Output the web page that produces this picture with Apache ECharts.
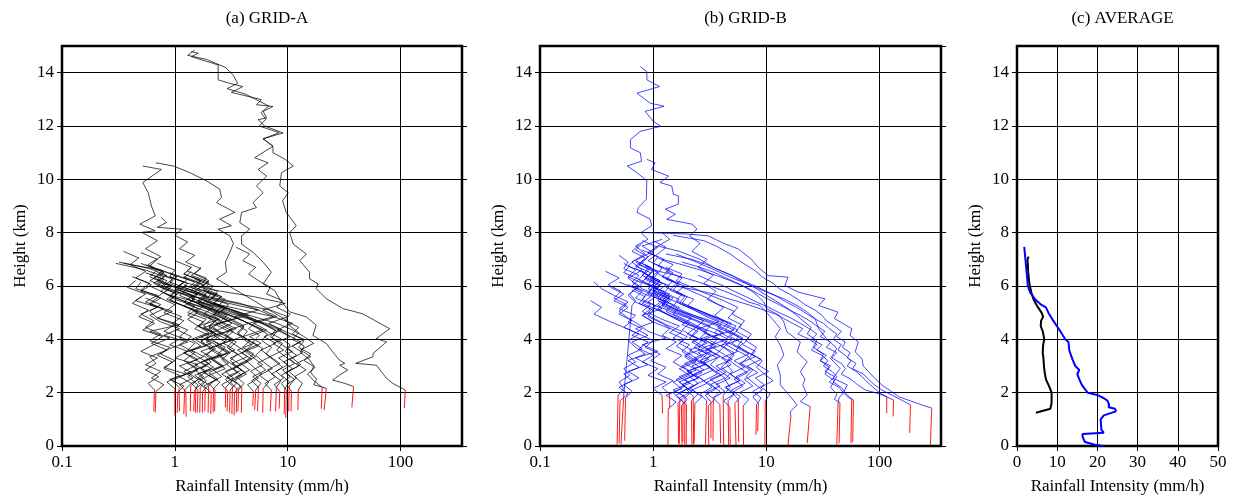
<!DOCTYPE html>
<html><head><meta charset="utf-8">
<script src="https://cdn.jsdelivr.net/npm/echarts@6/dist/echarts.min.js"></script>
<style>html,body{margin:0;padding:0;background:#fff}#c{width:1236px;height:500px}</style>
</head><body><div id="c"></div>
<script>
// ---------------- DATA ----------------
const panelTitles = ['(a) GRID-A', '(b) GRID-B', '(c) AVERAGE'];
const xName = 'Rainfall Intensity (mm/h)';
const yName = 'Height (km)';
const profileStep = 0.25; // km between profile samples

// GRID-A: jagged profiles, values (mm/h) from bottom upward, bottom heights (km)
const gridA_bottoms = [2.1,2.05,2.15,2.0,2.2,2.1,2.05,2.25,2.15,2.1,2.2,2.05,2.25,2.0,2.15,2.1,2.2,2.05,2.1,2.25,2.0,2.15,2.1,2.2,2.05,2.1,2.2,2.15,2.1,2.2,2.05,2.15,2.1,2.25,2.05,2.1,2.2];
const gridA_profiles = [
 [0.66,0.58,0.72,0.55,0.68,0.6,0.85,0.62,0.78,0.52,0.66,0.48,0.58,0.42,0.5],
 [0.68,0.8,0.62,0.75,0.55,0.7,0.5,0.65,0.9,0.6,1.1,0.7,0.95,0.6,0.75,0.5,0.62,0.45,0.55,0.4,0.48,0.35],
 [1.0,0.85,1.1,0.8,0.95,0.7,0.9,1.3,0.8,1.1,0.75,0.6,0.8,0.55,0.7,0.45,0.5],
 [1.06,1.2,0.9,1.4,1.1,1.6,1.2,1.9,1.5,2.2,1.6,1.3,1.6,1.2,1.5,1.1],
 [1.09,0.95,1.25,0.8,1.0,0.75,0.9,0.6,0.75,0.55,0.65,0.5,0.7,0.45,0.55,0.38,0.45],
 [1.22,1.4,1.1,1.6,1.3,1.8,1.4,2.1,1.7,2.4,3.2,2.6,2.0,1.6,1.9,1.4,1.7,1.2],
 [1.25,1.1,1.45,1.2,1.6,1.0,1.3,0.9,1.15,0.8,1.0,0.7,0.6,0.75,0.55],
 [1.38,1.6,1.3,1.9,1.5,1.2,1.7,1.4,2.0,1.6,2.5,1.8,1.2,0.9,1.1,0.8,0.95,0.7],
 [1.53,1.8,1.5,2.1,1.7,2.5,2.0,2.8,2.2,3.5,2.6,4.5,3.0,1.6,0.9,1.1,0.7,0.85,0.6,0.32],
 [1.6,1.4,1.8,1.5,2.0,1.6,1.3,1.5,1.1,1.3,0.95,1.15,0.8,0.6,0.72,0.5,0.6,0.42],
 [1.68,1.9,1.6,2.2,1.8,2.6,2.0,1.7,2.3,1.8,3.0,2.2,2.6,1.8,2.1,1.5,1.7,1.2,1.4],
 [1.76,2.0,1.6,1.9,1.5,2.2,1.7,2.5,1.9,3.0,2.3,3.6,2.5,1.5,1.0,0.75,0.9,0.65,0.78,0.55],
 [1.99,2.3,1.8,2.6,2.1,2.9,2.3,3.3,2.6,2.0,2.4,1.7,1.2,0.85,1.0,0.7,0.8,0.55],
 [2.1,1.8,2.4,2.0,2.7,2.2,3.0,2.4,1.9,2.2,1.6,1.9,1.3,1.5,1.0,0.8,0.95,0.7,0.8,0.6,0.7,0.5],
 [2.2,2.5,2.0,2.8,2.3,1.9,2.2,1.7,2.0,1.5,1.8,1.3,1.6,1.2,1.45,1.0,1.2],
 [2.27,2.0,2.6,2.2,3.0,2.5,3.4,2.7,3.9,3.0,4.5,3.4,5.5,3.8,2.0,1.2,0.8,0.6,0.7,0.5],
 [2.83,3.2,2.6,3.5,2.9,2.4,2.8,2.2,2.6,2.0,2.3,1.7,1.3,0.9,1.05,0.75,0.85,0.6],
 [2.94,2.6,3.3,2.8,3.8,3.1,4.2,3.4,2.8,3.3,2.5,2.0,2.4,1.7,2.0,1.5,1.8,1.2,1.4],
 [3.09,3.5,2.9,3.9,3.2,4.4,3.6,5.0,4.0,6.0,4.5,7.5,5.5,3.0,1.5,0.9,0.65,0.8,0.55,0.3],
 [3.24,2.8,3.6,3.0,2.6,3.1,2.5,2.9,2.2,1.8,2.1,1.5,1.8,1.3,1.6,1.1,1.3,0.9],
 [3.37,3.8,3.2,4.2,3.5,4.8,3.9,5.5,4.3,3.6,4.1,3.2,2.4,1.6,1.1,0.8,0.6],
 [3.54,3.1,3.9,3.3,4.4,3.7,3.0,3.5,2.8,3.2,2.5,2.9,2.0,1.5,1.1,1.3,0.9,1.0,0.7],
 [3.66,4.1,3.5,4.6,3.8,5.2,4.2,5.8,4.6,6.5,5.0,8.0,6.0,9.5,5.0,2.2,1.3,0.9],
 [3.92,3.4,4.3,3.6,3.1,3.6,2.9,3.3,2.6,2.2,2.5,1.8,2.2,1.6,1.9,1.4,1.7,1.2,1.4,1.0],
 [4.96,4.4,5.5,4.7,6.0,5.0,4.2,4.8,3.9,4.4,3.5,2.6,1.9,1.3,1.5,1.0],
 [5.2,5.8,4.9,6.4,5.4,7.0,5.8,7.8,6.2,8.8,6.8,10.0,7.0,3.5,1.8,1.2,0.9,1.05,0.75,0.35],
 [5.5,4.8,5.9,5.0,4.3,5.0,4.0,4.6,3.6,4.1,3.2,2.4,2.8,2.0,2.4,1.7,2.0,1.5,1.7],
 [6.06,6.8,5.6,7.3,6.1,5.2,6.0,4.9,5.6,4.5,5.2,4.0,3.0,2.0,1.4,1.0,1.2,0.8],
 [7.16,6.3,7.8,6.6,8.5,7.0,9.2,7.4,10.5,8.0,11.0,7.5,4.0,2.2,1.5,1.1,1.3,0.9,1.0,0.7],
 [7.93,8.7,7.2,9.0,7.6,6.4,7.2,5.9,6.6,5.2,4.0,2.8,2.0,1.4,1.6,1.1],
 [8.5,7.6,9.2,7.9,10.0,8.3,11.0,8.8,7.2,8.0,6.2,4.5,3.0,2.0,1.4,1.7,1.2],
 [9.4,10.4,8.8,11.0,9.2,12.0,9.8,13.0,10.2,8.0,5.5,3.5,2.3,1.6,1.9,1.3,1.5,1.0],
 [9.7,8.8,10.5,9.0,11.5,9.5,8.0,9.0,7.0,7.8,6.0,4.5,3.2,2.2,2.6,1.8,2.0,1.4],
 [10.3,11.5,9.6,12.5,10.5,13.5,11.0,14.0,10.0,7.5,5.0,3.4,2.4,2.8,1.9,2.2,1.5],
 [10.8,9.8,12.0,10.2,13.0,11.0,9.5,10.5,8.5,6.5,4.8,3.5,2.6,3.0,2.1,2.4,1.7,1.9,1.3],
 [12.4,13.5,11.5,14.5,12.0,16.0,13.0,17.0,14.0,11.0,8.0,5.0,3.2,2.2,2.6,1.8],
 [20.2,17.0,15.0,17.5,14.0,16.0,12.5,14.0,11.0,12.5,9.5,10.5,8.0,9.0,6.5,7.0,5.5,4.5,5.2,4.0,4.6,3.5]
];
// lower ends [mm/h, km] of the red near-surface segments
const gridA_redEnds = [[0.65,1.3],[0.67,1.25],[1.0,1.15],[1.05,1.25],[1.1,1.3],[1.2,1.2],[1.26,1.1],[1.37,1.3],[1.52,1.25],[1.58,1.25],[1.66,1.25],[1.75,1.25],[1.97,1.25],[2.08,1.2],[2.18,1.25],[2.25,1.3],[2.8,1.45],[2.9,1.3],[3.05,1.25],[3.2,1.2],[3.35,1.15],[3.5,1.25],[3.62,1.3],[3.88,1.25],[4.9,1.5],[5.1,1.35],[5.4,1.3],[6.0,1.25],[7.0,1.3],[7.8,1.3],[8.4,1.4],[9.3,1.2],[9.6,1.05],[10.2,1.3],[10.7,1.3],[12.3,1.35],[19.8,1.4]];
// GRID-A tall profiles as [km, mm/h]
const gridA_tall = [
 [[14.79,1.40],[14.73,1.61],[14.6,1.40],[14.29,2.42],[13.73,2.42],[13.6,3.07],[13.48,4.0],[13.26,3.17],[12.99,5.85],[12.8,5.28],[12.73,7.4],[12.55,6.06],[12.3,6.5],[12.24,5.46],[12.0,6.25],[11.74,9.1],[11.52,6.06],[11.24,7.4],[11.0,7.4],[10.75,9.5],[10.5,11.2],[10.25,8.8],[9.75,8.5],[9.5,10.1],[9.2,9.0],[8.76,9.7],[8.26,11.9],[8.0,10.4],[7.57,11.2],[7.2,14.6],[6.95,12.8],[6.52,15.6],[6.27,15.6],[6.08,18.6],[5.9,17.9],[5.52,22],[5.15,31],[4.96,46],[4.4,80],[4.03,61],[3.9,75],[3.47,57],[3.35,57],[3.1,40],[3.03,61],[2.54,75],[2.35,85],[2.1,110]],
 [[14.85,1.5],[14.65,1.3],[14.5,1.9],[14.2,2.8],[13.9,3.3],[13.6,3.6],[13.4,2.9],[13.2,4.2],[13.0,5.2],[12.75,6.8],[12.5,5.8],[12.25,6.4],[12.0,5.6],[11.75,8.4],[11.52,6.06],[11.24,7.4],[10.81,5.1],[10.62,6.7],[10.37,5.46],[10.12,6.5],[9.75,5.28],[9.5,6.06],[9.13,4.93],[8.94,5.28],[8.76,3.9],[8.38,3.76],[8.13,4.6],[7.88,3.9],[7.57,3.9],[7.26,4.93],[6.89,6.06],[6.52,7.16],[6.08,6.06],[5.83,7.66],[5.5,8.5],[5.03,10.4],[4.84,14.6],[4.53,17.9],[4.15,16.7],[3.84,22],[3.53,25],[3.22,28.8],[3.1,32],[3.03,28.8],[2.85,34],[2.66,28.8],[2.47,25],[2.35,32],[2.23,38.3]],
 [[10.62,0.68],[10.5,0.97],[10.25,1.36],[9.94,1.91],[9.63,2.5],[9.32,2.59],[9.13,2.34],[8.76,3.4],[8.51,2.5],[8.26,3.17],[8.13,2.42],[7.88,3.07],[7.6,3.3],[7.26,3.07],[6.9,2.8],[6.52,2.87],[6.27,2.34],[6.0,3.0],[5.75,3.8],[5.5,4.8],[5.25,6.0],[5.0,7.5],[4.75,9.5],[4.5,10.5],[4.25,12.5],[4.0,11],[3.75,14],[3.5,13],[3.25,15.5],[3.0,17],[2.75,16],[2.5,18],[2.3,17],[2.16,22]],
 [[10.5,0.52],[10.37,0.76],[9.88,0.52],[9.5,0.58],[9.0,0.62],[8.63,0.67],[8.32,0.49],[8.07,0.67],[8.01,0.51],[7.7,0.7],[7.4,0.55],[7.1,0.75],[6.8,0.58],[6.5,0.8],[6.2,0.6],[5.9,0.9],[5.6,0.7],[5.3,1.0],[5.0,0.8],[4.7,1.2],[4.4,1.0],[4.1,1.4],[3.8,1.1],[3.5,1.5],[3.2,1.2],[2.9,1.6],[2.6,1.3],[2.3,1.6],[2.05,1.49]],
 [[8.57,0.76],[8.38,0.84],[8.2,0.7],[8.13,1.15],[7.9,1.0],[7.65,1.3],[7.4,1.1],[7.15,1.5],[6.9,1.25],[6.65,1.7],[6.4,1.4],[6.15,2.0],[5.9,1.6],[5.65,2.3],[5.4,1.9],[5.15,2.8],[4.9,2.2],[4.65,2.6],[4.4,2.0],[4.15,2.4],[3.9,1.9],[3.65,2.3],[3.4,1.8],[3.15,2.1],[2.9,1.7],[2.65,2.0],[2.4,1.6],[2.15,1.86]]
];
const gridA_tallRedEnds = [[108,1.42],[37,1.45],[21,1.35],[1.47,1.3],[1.84,1.3]];

// GRID-B
const gridB_bottoms = [1.9,1.7,1.8,1.9,1.4,1.95,1.6,1.75,1.5,1.65,1.8,1.55,1.7,1.85,1.6,1.7,1.5,1.65,1.8,1.55,1.7,1.45,1.6,1.75,1.5,1.55,1.6,1.7];
const gridB_profiles = [
 [0.49,0.55,0.5,0.62,0.55,0.7,0.6,0.8,0.65,0.9,0.7,1.0,0.8,1.2,0.9,1.1,0.8,0.65,0.75,0.55,0.6,0.5],
 [0.51,0.6,0.5,0.65,0.55,0.75,0.6,0.85,0.7,0.6,0.75,0.55,0.65,0.5,0.6,0.45,0.55,0.42],
 [0.57,0.65,0.55,0.75,0.6,0.9,0.7,1.1,0.8,1.3,0.9,0.75,0.6,0.5,0.58,0.45,0.52,0.4,0.5,0.38],
 [1.2,1.0,1.3,0.9,1.1,0.8,1.0,0.75,0.9,0.65,0.8,0.6,0.7,0.5,0.6,0.45,0.35,0.3],
 [1.36,1.6,1.3,1.8,1.5,2.1,1.7,2.4,1.9,2.8,2.2,3.2,2.5,3.8,2.8,2.2,1.6,1.2,0.9,1.05,0.8,0.9,0.7],
 [1.4,1.2,1.5,1.1,1.3,0.95,1.15,0.85,1.0,0.75,0.55,0.4,0.3,0.35,0.28],
 [1.66,1.9,1.5,2.1,1.7,2.4,1.9,2.7,2.1,3.0,2.3,1.8,2.1,1.5,1.1,0.8,0.95,0.7,0.8,0.6,0.7,0.55],
 [1.72,1.5,1.9,1.6,2.2,1.8,2.5,2.0,1.6,1.9,1.4,1.7,1.2,0.9,1.05,0.8,0.9,0.65,0.75,0.55,0.62],
 [1.78,2.0,1.7,2.3,1.9,2.7,2.2,3.1,2.5,3.6,2.8,4.2,3.0,2.2,1.5,1.1,1.3,0.9,1.0,0.75,0.85,0.6,0.7],
 [1.84,1.6,2.0,1.7,2.3,1.9,1.5,1.8,1.3,1.6,1.2,1.4,1.0,0.8,0.95,0.7,0.6,0.7,0.5],
 [1.91,2.2,1.8,2.5,2.0,2.9,2.3,3.3,2.6,2.1,2.5,1.8,2.2,1.6,1.2,1.4,1.0,1.15,0.85,1.0,0.75,0.85,0.65,0.75],
 [1.97,1.7,2.2,1.8,2.5,2.0,2.8,2.2,1.8,2.1,1.5,1.8,1.3,1.0,0.8,0.95,0.7,0.8,0.6],
 [2.18,2.5,2.1,2.8,2.3,3.2,2.6,3.6,2.8,4.2,3.1,2.4,2.8,2.0,1.5,1.1,1.3,1.0,1.15,0.85,0.95,0.7,0.9,1.1,0.8],
 [2.26,2.0,2.5,2.1,2.8,2.3,1.9,2.2,1.7,2.0,1.5,1.2,0.9,1.0,0.75,0.85,0.65],
 [2.34,2.7,2.2,3.0,2.5,3.4,2.8,3.9,3.0,4.5,3.4,5.2,3.8,2.5,1.6,1.2,1.4,1.0,1.2,0.9,1.0,0.8,0.9,0.7,0.8],
 [2.96,2.6,3.3,2.8,3.7,3.1,2.6,3.0,2.3,2.7,2.0,2.4,1.7,1.3,1.0,1.2,0.9,1.0,0.75],
 [3.07,3.5,2.9,3.9,3.2,4.4,3.6,5.0,4.0,3.2,3.7,2.8,3.2,2.3,1.6,1.2,1.4,1.0,1.15,0.85,0.95,0.7,0.85,1.0,0.8,1.2],
 [3.24,2.9,3.6,3.0,4.0,3.3,2.8,3.2,2.5,2.9,2.2,2.5,1.8,1.4,1.1,1.3,0.95,1.1,0.8,0.9,0.7,0.8],
 [3.4,3.9,3.2,4.3,3.6,4.9,4.0,5.6,4.4,6.2,4.8,3.5,2.4,1.7,1.3,1.5,1.1,1.3,0.95,1.1,0.85],
 [3.89,3.4,4.3,3.6,4.8,3.9,3.2,3.7,2.9,3.4,2.6,3.0,2.2,1.7,1.3,1.5,1.1,1.25,0.9,1.0,0.8],
 [4.6,5.2,4.3,5.8,4.8,6.4,5.2,7.0,5.5,4.3,4.9,3.7,4.2,3.0,2.2,1.6,1.8,1.3,1.5,1.1,1.2,0.9,1.1,1.3,1.0],
 [4.77,4.2,5.2,4.4,5.8,4.8,4.0,4.6,3.6,4.2,3.2,3.7,2.6,2.0,1.5,1.7,1.2,1.4,1.0,1.15,0.85],
 [5.28,5.9,4.9,6.5,5.4,7.2,5.8,8.0,6.2,5.0,5.7,4.3,4.9,3.5,2.5,1.8,2.0,1.5,1.7,1.2,1.4,1.0,1.1,0.8],
 [5.65,5.0,6.2,5.2,6.8,5.5,4.6,5.2,4.0,4.6,3.5,4.0,2.8,2.0,1.5,1.7,1.25,1.4,1.0,1.1,0.85],
 [6.25,7.0,5.8,7.6,6.4,8.4,6.8,9.0,7.0,5.6,6.2,4.8,5.4,3.8,2.8,2.0,2.3,1.6,1.9,1.3,1.5,1.1,1.25,0.9,1.1,1.4,1.2],
 [8.2,9.0,7.6,9.6,8.0,10.5,8.4,7.0,8.0,6.2,7.0,5.4,6.0,4.6,5.2,3.8,3.0,2.2,1.6,1.8,1.3,1.5,1.1],
 [8.5,7.6,9.2,7.8,6.6,7.6,6.0,7.0,5.4,6.2,4.8,5.6,4.2,3.2,2.3,1.7,1.9,1.4,1.6,1.2],
 [9.8,10.8,9.0,11.5,9.6,8.2,9.2,7.4,8.2,6.6,7.4,5.8,6.4,5.0,5.6,4.2,3.0,2.2,1.6,1.8,1.3]
];
const gridB_redEnds = [[0.48,0.05],[0.5,0.1],[0.56,0.2],[1.21,1.23],[1.35,0.05],[1.4,1.4],[1.68,0.1],[1.7,0.05],[1.8,0.03],[1.83,0.15],[1.9,0.05],[1.96,0.05],[2.2,0.05],[2.28,0.05],[2.3,0.1],[2.9,0.05],[3.1,0.03],[3.24,0.3],[3.38,0.2],[3.95,0.1],[4.65,0.03],[4.8,0.05],[5.4,0.03],[5.7,0.15],[6.3,0.03],[8.1,0.42],[8.4,0.55],[9.7,0.03]];
const gridB_tall = [
 [[14.23,0.77],[14.04,0.88],[13.73,0.88],[13.48,1.14],[13.23,0.72],[12.86,0.94],[12.74,1.25],[12.55,0.85],[12.18,1.0],[11.99,1.17],[11.8,0.77],[11.49,0.63],[11.18,0.63],[11.0,0.77],[10.68,0.79],[10.5,0.59],[10.25,0.72],[9.94,0.88],[9.25,0.87],[8.94,0.74],[8.76,0.72],[8.51,0.94],[8.26,0.97],[8.0,0.78],[7.75,0.9],[7.5,0.7],[7.2,0.85],[6.9,0.65],[6.6,0.8],[6.3,0.6],[6.0,0.75],[5.7,0.62],[5.45,0.7],[5.27,0.65],[1.91,0.55]],
 [[10.75,0.88],[10.62,1.04],[10.37,0.97],[10.12,1.37],[9.88,1.15],[9.75,1.46],[9.44,1.51],[9.38,1.67],[9.07,1.67],[8.88,1.28],[8.69,1.57],[8.5,1.32],[8.32,2.2],[8.13,2.44],[7.88,2.1],[7.6,2.6],[7.3,2.2],[7.0,3.0],[6.7,2.5],[6.4,3.4],[6.1,2.8],[5.8,3.6],[5.5,3.0],[5.2,4.2],[4.9,3.5],[4.6,4.6],[4.3,3.8],[4.0,5.0],[3.7,4.2],[3.4,5.2],[3.1,4.4],[2.8,5.0],[2.5,4.3],[2.2,4.8],[1.9,4.16]],
 [[6.6,1.0],[6.4,1.6],[6.2,2.3],[6.0,3.2],[5.8,4.3],[5.6,5.6],[5.4,7.0],[5.27,8.8],[5.0,10.1],[4.71,11.6],[4.4,13.3],[4.1,12],[3.78,13.3],[3.41,14.3],[3.03,12.5],[2.66,13.3],[2.29,13.3],[1.9,16],[1.54,18.7],[1.29,16.3],[1.11,16.5]],
 [[7.0,1.2],[6.8,1.8],[6.6,2.6],[6.4,3.6],[6.2,4.8],[6.0,6.2],[5.8,7.5],[5.6,8.5],[5.4,9.5],[5.15,10.1],[4.9,13],[4.65,14.3],[4.28,15.2],[3.9,20],[3.53,18.7],[3.16,23],[2.79,20],[2.5,22],[2.29,21],[1.91,23],[1.67,20],[1.48,24.4]],
 [[7.2,1.6],[6.9,2.4],[6.6,3.5],[6.3,5.0],[6.0,7.5],[5.77,10.1],[5.52,14.3],[5.27,18.7],[5.02,23],[4.78,27],[4.4,29],[4.03,34],[3.66,42],[3.28,37],[2.91,45],[2.54,39],[2.29,52],[2.0,48],[1.8,44],[1.64,43.1]],
 [[7.5,1.1],[7.3,1.7],[7.0,2.6],[6.7,3.4],[6.45,4.6],[6.2,6.0],[5.95,7.8],[5.7,9.6],[5.45,12],[5.2,15],[4.95,18],[4.7,21],[4.45,25],[4.2,23],[3.95,28],[3.7,26],[3.45,32],[3.2,30],[2.95,36],[2.7,33],[2.45,40],[2.2,37],[1.95,42],[1.75,40],[1.62,44.8]],
 [[6.0,1.6],[5.85,2.4],[5.7,3.4],[5.55,4.4],[5.4,5.8],[5.25,7.5],[5.1,9.5],[4.95,12],[4.8,14],[4.6,17],[4.4,21],[4.2,19],[4.0,24],[3.8,28],[3.6,25],[3.4,31],[3.2,35],[3.0,32],[2.8,38],[2.6,42],[2.4,39],[2.2,46],[2.0,50],[1.85,54],[1.73,56.9]],
 [[6.4,2.5],[6.2,3.2],[6.0,4.2],[5.8,5.2],[5.6,6.6],[5.4,8.2],[5.2,10.5],[5.0,13],[4.8,16.5],[4.6,20],[4.4,24],[4.2,28],[4.0,25],[3.8,31],[3.6,28],[3.4,34],[3.2,30],[3.0,37],[2.8,33],[2.6,40],[2.4,36],[2.2,44],[2.0,48],[1.85,52],[1.73,58.9]],
 [[6.9,1.8],[6.7,2.6],[6.5,3.5],[6.3,4.4],[6.1,5.6],[5.9,7.0],[5.7,8.5],[5.5,10.5],[5.3,13],[5.1,16],[4.9,20],[4.7,24],[4.5,28],[4.3,33],[4.1,30],[3.9,37],[3.7,34],[3.5,42],[3.3,38],[3.1,46],[2.9,50],[2.7,46],[2.5,56],[2.3,64],[2.1,75],[2.0,92],[1.85,116]],
 [[7.2,1.3],[7.0,2.2],[6.8,3.0],[6.6,3.8],[6.4,5.0],[6.2,6.2],[6.0,8.0],[5.8,10],[5.6,12.5],[5.4,15],[5.2,18.5],[5.0,22],[4.8,26],[4.6,32],[4.4,36],[4.2,42],[4.0,39],[3.8,46],[3.6,43],[3.4,50],[3.2,56],[3.0,52],[2.8,62],[2.6,70],[2.4,78],[2.2,88],[2.0,100],[1.85,115],[1.73,133]],
 [[7.9,1.5],[7.7,2.8],[7.5,3.6],[7.2,4.8],[6.9,6.0],[6.6,7.8],[6.3,9.5],[6.1,11.5],[5.9,13],[5.7,16],[5.5,19],[5.3,22],[5.1,27],[4.9,31],[4.7,34],[4.5,40],[4.3,46],[4.1,42],[3.9,50],[3.7,47],[3.5,55],[3.3,52],[3.1,62],[2.9,58],[2.7,72],[2.5,80],[2.3,90],[2.1,105],[1.9,130],[1.7,160],[1.54,188]],
 [[8.0,0.9],[7.95,2.0],[7.88,3.07],[7.6,4.2],[7.39,5.65],[7.0,7.4],[6.7,8.5],[6.39,10.4],[6.33,15.6],[6.02,14.6],[5.77,19.2],[5.52,33],[5.27,29],[5.02,43],[4.78,40],[4.4,57],[4.15,55],[3.9,65],[3.53,61],[3.28,70],[3.0,72],[2.79,80],[2.54,91],[2.29,105],[2.04,128],[1.85,148],[1.67,194],[1.54,237],[1.42,290]]
];
const gridB_tallRedEnds = [[0.52,0.05],[4.2,0.05],[15.5,0.0],[23,0.11],[42,0.05],[44,0.1],[56,0.1],[58,0.15],[116,1.23],[132,1.11],[185,0.49],[282,0.03]];

// AVERAGE profiles [mm/h, km]
const avgA = [[2.9,7.1],[2.6,7.0],[2.7,6.8],[2.8,6.5],[3.0,6.2],[3.2,6.0],[3.6,5.75],[4.1,5.5],[5.0,5.25],[6.1,5.0],[6.5,4.85],[6.0,4.7],[5.9,4.5],[6.4,4.3],[6.8,4.0],[6.5,3.8],[6.4,3.5],[6.6,3.25],[6.7,3.0],[6.9,2.75],[7.2,2.5],[7.8,2.3],[8.1,2.2],[8.6,2.0],[8.6,1.8],[8.6,1.6],[8.3,1.4],[4.7,1.25]];
const avgB = [[1.8,7.47],[2.1,7.0],[2.4,6.5],[2.7,6.0],[3.3,5.75],[4.5,5.5],[6.0,5.3],[7.2,5.2],[7.8,5.0],[8.8,4.75],[9.9,4.5],[11.0,4.25],[12.0,4.0],[12.8,3.9],[13.0,3.6],[13.2,3.5],[13.8,3.25],[14.5,3.0],[15.5,2.85],[15.0,2.7],[15.5,2.5],[16.1,2.3],[16.8,2.15],[17.6,2.0],[20.2,1.9],[21.5,1.8],[22.5,1.7],[22.9,1.55],[22.8,1.45],[24.4,1.4],[24.6,1.3],[21.6,1.15],[20.8,1.0],[21.0,0.6],[21.6,0.5],[16.3,0.45],[16.3,0.35],[16.9,0.15],[19.4,0.05],[21.4,0.0]];

// ---------------- CHART ----------------
const FONT = 'Liberation Serif';
const FS = 17;
const grids = [
  {left: 62, top: 46, width: 400, height: 402},
  {left: 540, top: 46, width: 401, height: 402},
  {left: 1017, top: 46, width: 201, height: 402}
].map(g => Object.assign(g, {show: true, borderColor: '#000', borderWidth: 2.5, backgroundColor: 'transparent'}));

const splitStyle = {show: true, lineStyle: {color: '#000', width: 1}};
const tickStyle = {show: true, length: 5, inside: false, lineStyle: {color: '#000', width: 1}};
const nameStyle = {fontFamily: FONT, fontSize: FS, color: '#000'};
function labelStyle(showMax) {
  return {fontFamily: FONT, fontSize: FS, color: '#000', margin: 8, showMaxLabel: showMax};
}

function xAxisFor(gi, isLog, top) {
  const a = {
    gridIndex: gi, position: top ? 'top' : 'bottom',
    axisLine: {show: false}, axisTick: tickStyle,
    axisLabel: top ? {show: false} : labelStyle(!isLog),
    splitLine: top ? {show: false} : splitStyle
  };
  if (isLog) Object.assign(a, {type: 'log', logBase: 10, min: 0.1, max: 350});
  else Object.assign(a, {type: 'value', min: 0, max: 50, interval: 10});
  if (!top) Object.assign(a, {name: xName, nameLocation: 'middle', nameGap: 32, nameTextStyle: nameStyle});
  return a;
}
function yAxisFor(gi, right) {
  const a = {
    gridIndex: gi, type: 'value', min: 0, max: 15, interval: 2, position: right ? 'right' : 'left',
    axisLine: {show: false}, axisTick: tickStyle,
    axisLabel: right ? {show: false} : labelStyle(false),
    splitLine: right ? {show: false} : splitStyle
  };
  if (!right) Object.assign(a, {name: yName, nameLocation: 'middle', nameGap: 33, nameTextStyle: nameStyle});
  return a;
}

const xAxes = [xAxisFor(0, true, false), xAxisFor(1, true, false), xAxisFor(2, false, false),
               xAxisFor(0, true, true), xAxisFor(1, true, true), xAxisFor(2, false, true)];
const yAxes = [yAxisFor(0, false), yAxisFor(1, false), yAxisFor(2, false),
               yAxisFor(0, true), yAxisFor(1, true), yAxisFor(2, true)];

const series = [];
function addLine(data, gi, color, width, opacity, z) {
  series.push({type: 'line', xAxisIndex: gi, yAxisIndex: gi, data: data, symbol: 'none', showSymbol: false,
    lineStyle: {color: color, width: width, opacity: opacity}, silent: true, animation: false, z: z || 2});
}
function stepProfile(bottom, vals) {
  return vals.map((v, i) => [v, Math.round((bottom + i * profileStep) * 1000) / 1000]);
}
function hvToXY(list) { return list.map(p => [p[1], p[0]]); }

function addPanel(gi, bottoms, profiles, redEnds, tall, tallRed, color, opacity) {
  profiles.forEach((vals, i) => {
    const d = stepProfile(bottoms[i], vals);
    addLine(d, gi, color, 1, opacity, 2);
    addLine([d[0], redEnds[i]], gi, '#ff0000', 1, 0.9, 3);
  });
  tall.forEach((prof, i) => {
    const d = hvToXY(prof);
    addLine(d, gi, color, 1, opacity, 2);
    addLine([d[d.length - 1], tallRed[i]], gi, '#ff0000', 1, 0.9, 3);
  });
}
addPanel(0, gridA_bottoms, gridA_profiles, gridA_redEnds, gridA_tall, gridA_tallRedEnds, '#000000', 0.72);
addPanel(1, gridB_bottoms, gridB_profiles, gridB_redEnds, gridB_tall, gridB_tallRedEnds, '#0000ff', 0.72);
addLine(avgA, 2, '#000000', 2, 1, 4);
addLine(avgB, 2, '#0000ff', 2, 1, 4);

const titles = panelTitles.map((t, i) => ({
  text: t, left: grids[i].left + grids[i].width / 2, top: 5, textAlign: 'center',
  textStyle: {fontFamily: FONT, fontSize: FS, fontWeight: 'normal', color: '#000'}
}));

const chart = echarts.init(document.getElementById('c'), null, {renderer: 'canvas'});
chart.setOption({
  animation: false,
  backgroundColor: '#fff',
  title: titles,
  grid: grids,
  xAxis: xAxes,
  yAxis: yAxes,
  series: series
});
</script>
</body></html>
